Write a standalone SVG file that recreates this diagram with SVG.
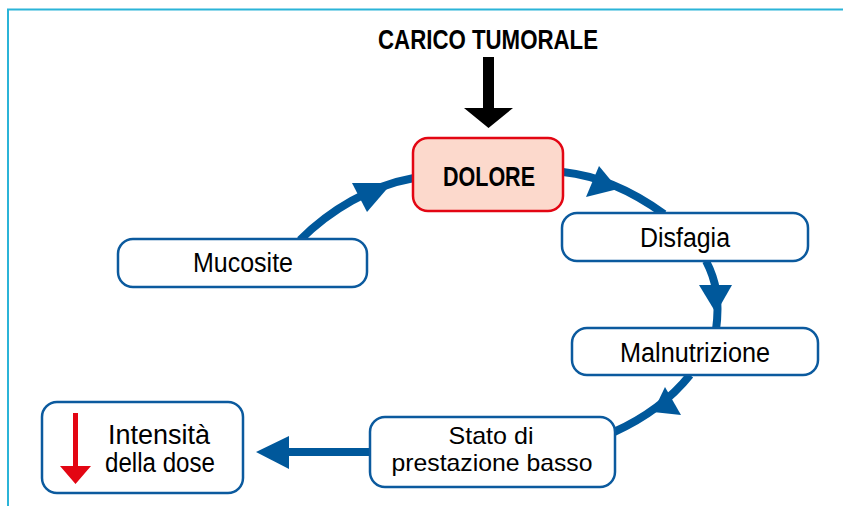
<svg xmlns="http://www.w3.org/2000/svg" width="843" height="506" viewBox="0 0 843 506">
<style>
.frame{stroke:#2bb4d8;stroke-width:2;fill:none}
.arc{fill:none;stroke:#00589b;stroke-width:8}
.head{fill:#00589b}
.box{fill:#fff;stroke:#0b5a9e;stroke-width:2.5}
.pain{fill:#fcd9cc;stroke:#e30613;stroke-width:2.5}
.t{font-family:"Liberation Sans",Arial,sans-serif;font-size:27px;fill:#000;text-anchor:middle}
.t2{font-family:"Liberation Sans",Arial,sans-serif;font-size:24px;fill:#000;text-anchor:middle}
.b{font-family:"Liberation Sans",Arial,sans-serif;font-weight:bold;fill:#000;text-anchor:middle}
</style>
<rect width="843" height="506" fill="#fff"/>
<path class="frame" d="M8,506 V9.5 H843"/>
<g id="title">
<text class="b" x="488" y="49" font-size="27" textLength="220" lengthAdjust="spacingAndGlyphs">CARICO TUMORALE</text>
<path d="M483,57 H494 V108 H513 L488.5,128 L464,108 H483 Z" fill="#000"/>
</g>
<g id="connectors">
<path class="arc" d="M300,240 C330,210 370,186 414,178"/>
<polygon class="head" points="352,183 367,212 392,183"/>
<path class="arc" d="M563,172 C600,176 635,193 664,214"/>
<polygon class="head" points="599,166 586,197 618,189"/>
<path class="arc" d="M706,261 C716,280 720,300 716,330"/>
<polygon class="head" points="699,285 732,285 716,313"/>
<path class="arc" d="M690,375 C670,400 645,418 614,432"/>
<polygon class="head" points="665,387 681,415 653,412"/>
<path class="arc" d="M370,452 H286"/>
<polygon class="head" points="289,436 289,469 256,452"/>
</g>
<g id="dolore">
<rect class="pain" x="413" y="138" width="150" height="73" rx="15"/>
<text class="b" x="489" y="186" font-size="28" textLength="92" lengthAdjust="spacingAndGlyphs">DOLORE</text>
</g>
<g id="disfagia">
<rect class="box" x="562" y="213" width="246" height="48" rx="15"/>
<text class="t" x="685" y="247" textLength="90" lengthAdjust="spacingAndGlyphs">Disfagia</text>
</g>
<g id="malnutrizione">
<rect class="box" x="572" y="328" width="246" height="47" rx="15"/>
<text class="t" x="695" y="362" textLength="150" lengthAdjust="spacingAndGlyphs">Malnutrizione</text>
</g>
<g id="mucosite">
<rect class="box" x="118" y="239" width="249" height="48" rx="15"/>
<text class="t" x="243" y="272" textLength="100" lengthAdjust="spacingAndGlyphs">Mucosite</text>
</g>
<g id="stato">
<rect class="box" x="370" y="417" width="245" height="70" rx="15"/>
<text class="t2" x="491" y="444" textLength="85" lengthAdjust="spacingAndGlyphs">Stato di</text>
<text class="t2" x="492" y="471" textLength="201" lengthAdjust="spacingAndGlyphs">prestazione basso</text>
</g>
<g id="intensita">
<rect class="box" x="42" y="402" width="201" height="91" rx="15"/>
<path d="M73,413 H78 V466 H91 L75.5,484 L60,466 H73 Z" fill="#e30613"/>
<text class="t" x="159" y="444" textLength="102" lengthAdjust="spacingAndGlyphs">Intensità</text>
<text class="t" x="160" y="472" textLength="110" lengthAdjust="spacingAndGlyphs">della dose</text>
</g>
</svg>
